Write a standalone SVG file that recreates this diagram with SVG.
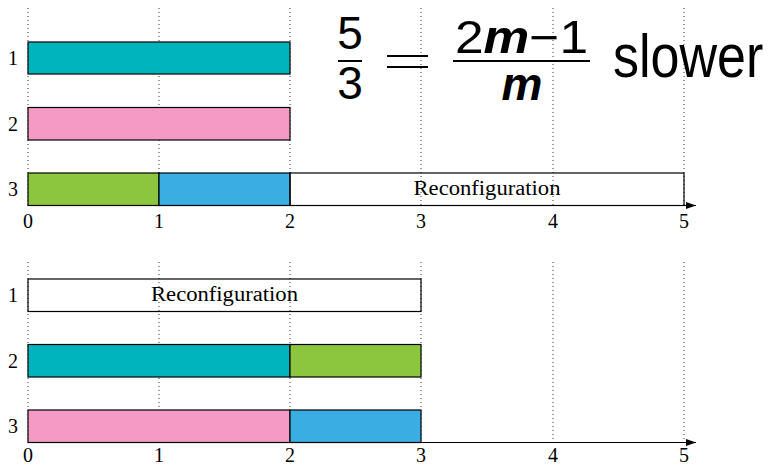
<svg xmlns="http://www.w3.org/2000/svg" width="770" height="465" viewBox="0 0 770 465">
  <style>
    .grid { stroke: #333; stroke-width: 1; stroke-dasharray: 1 3; fill: none; }
    .bar { stroke: #000; stroke-width: 1.2; }
    .axis { stroke: #000; stroke-width: 1; fill: none; }
    .lbl { font-family: "Liberation Serif", "DejaVu Serif", serif; font-size: 20px; fill: #000; }
    .math { font-family: "Liberation Sans", "DejaVu Sans", sans-serif; fill: #000; }
    .teal { fill: #00B4BD; }
    .pink { fill: #F49AC4; }
    .green { fill: #8CC63F; }
    .blue { fill: #3AADE3; }
    .none { fill: none; }
  </style>
  <defs>
    <marker id="arr" viewBox="0 0 10 10" refX="10" refY="5" markerWidth="10" markerHeight="10" markerUnits="userSpaceOnUse" orient="auto">
      <path d="M0,1.5 L10,5 L0,8.5 Z" fill="#000"/>
    </marker>
  </defs>
  <rect width="770" height="465" fill="#fff"/>

  <g id="grid-top">
    <line class="grid" x1="28" y1="8" x2="28" y2="206"/>
    <line class="grid" x1="159" y1="8" x2="159" y2="206"/>
    <line class="grid" x1="290" y1="8" x2="290" y2="206"/>
    <line class="grid" x1="421" y1="8" x2="421" y2="206"/>
    <line class="grid" x1="553" y1="8" x2="553" y2="206"/>
    <line class="grid" x1="684" y1="8" x2="684" y2="206"/>
  </g>
  <g id="grid-bottom">
    <line class="grid" x1="28" y1="262" x2="28" y2="442"/>
    <line class="grid" x1="159" y1="262" x2="159" y2="442"/>
    <line class="grid" x1="290" y1="262" x2="290" y2="442"/>
    <line class="grid" x1="421" y1="262" x2="421" y2="442"/>
    <line class="grid" x1="553" y1="262" x2="553" y2="442"/>
    <line class="grid" x1="684" y1="262" x2="684" y2="442"/>
  </g>

  <g id="formula">
    <text class="math" x="350" y="49" font-size="46" text-anchor="middle">5</text>
    <line x1="338" y1="61" x2="362" y2="61" stroke="#000" stroke-width="2"/>
    <text class="math" x="350" y="99" font-size="46" text-anchor="middle">3</text>
    <line x1="387" y1="56" x2="428" y2="56" stroke="#000" stroke-width="2"/>
    <line x1="387" y1="67" x2="428" y2="67" stroke="#000" stroke-width="2"/>
    <text class="math" x="455" y="53" font-size="46" textLength="133" lengthAdjust="spacingAndGlyphs">2<tspan font-style="italic" font-weight="bold">m</tspan>−1</text>
    <line x1="453" y1="61" x2="590" y2="61" stroke="#000" stroke-width="2"/>
    <text class="math" x="522" y="100" font-size="46" text-anchor="middle" font-style="italic" font-weight="bold">m</text>
    <text class="math" transform="translate(613,77) scale(1,1.19)" x="0" y="0" font-size="52">slower</text>
  </g>

  <g id="top-rows">
    <text class="lbl" x="13" y="65" text-anchor="middle">1</text>
    <text class="lbl" x="13" y="131" text-anchor="middle">2</text>
    <text class="lbl" x="13" y="196" text-anchor="middle">3</text>
  </g>
  <g id="t1-teal"><rect class="bar teal" x="28" y="42" width="262" height="32"/></g>
  <g id="t2-pink"><rect class="bar pink" x="28" y="107.5" width="262" height="32.5"/></g>
  <g id="t3-green"><rect class="bar green" x="28" y="173" width="131" height="32.5"/></g>
  <g id="t3-blue"><rect class="bar blue" x="159" y="173" width="131" height="32.5"/></g>
  <g id="t3-reconf">
    <rect class="bar none" x="290" y="173" width="394" height="32.5"/>
    <text class="lbl" x="487" y="195" text-anchor="middle" textLength="147" lengthAdjust="spacingAndGlyphs">Reconfiguration</text>
  </g>

  <g id="bottom-rows">
    <text class="lbl" x="13" y="302" text-anchor="middle">1</text>
    <text class="lbl" x="13" y="368" text-anchor="middle">2</text>
    <text class="lbl" x="13" y="433" text-anchor="middle">3</text>
  </g>
  <g id="b1-reconf">
    <rect class="bar none" x="28" y="279" width="393" height="32.5"/>
    <text class="lbl" x="224.5" y="301" text-anchor="middle" textLength="147" lengthAdjust="spacingAndGlyphs">Reconfiguration</text>
  </g>
  <g id="b2-teal"><rect class="bar teal" x="28" y="344.5" width="262" height="32.5"/></g>
  <g id="b2-green"><rect class="bar green" x="290" y="344.5" width="131" height="32.5"/></g>
  <g id="b3-pink"><rect class="bar pink" x="28" y="410" width="262" height="32.5"/></g>
  <g id="b3-blue"><rect class="bar blue" x="290" y="410" width="131" height="32.5"/></g>

  <g id="connectors">
    <line class="axis" x1="28" y1="205.5" x2="696" y2="205.5" marker-end="url(#arr)"/>
    <line class="axis" x1="28" y1="442.5" x2="696" y2="442.5" marker-end="url(#arr)"/>
  </g>

  <g id="ticks-top" class="lbl" text-anchor="middle">
    <text x="28" y="228">0</text>
    <text x="159" y="228">1</text>
    <text x="290" y="228">2</text>
    <text x="421" y="228">3</text>
    <text x="553" y="228">4</text>
    <text x="684" y="228">5</text>
  </g>
  <g id="ticks-bottom" class="lbl" text-anchor="middle">
    <text x="28" y="462">0</text>
    <text x="159" y="462">1</text>
    <text x="290" y="462">2</text>
    <text x="421" y="462">3</text>
    <text x="553" y="462">4</text>
    <text x="684" y="462">5</text>
  </g>
</svg>
